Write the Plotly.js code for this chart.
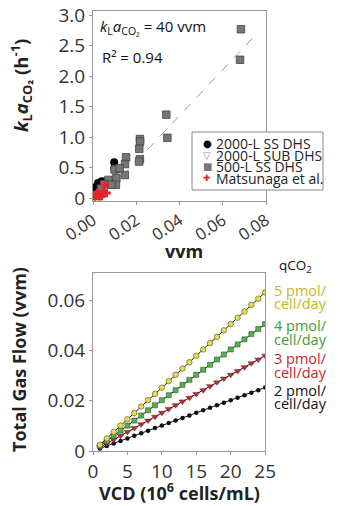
<!DOCTYPE html>
<html>
<head>
<meta charset="utf-8">
<script src="https://cdn.plot.ly/plotly-3.0.1.min.js"></script>
<style>html,body{margin:0;padding:0;background:#fff;}#chart{width:354px;height:506px;}</style>
</head>
<body>
<div id="chart"></div>
<script>
// ---------- Top panel data (kLa CO2 vs vvm) ----------
const ssX  = [0.0098, 0.0099, 0.0100, 0.0048, 0.0032, 0.0009, 0.0023, 0.0040];
const ssY  = [0.59, 0.50, 0.24, 0.27, 0.22, 0.18, 0.25, 0.28];
const subX = [0.0030, 0.0050, 0.0070];
const subY = [0.15, 0.20, 0.25];
const sq500X = [0.0684, 0.0680, 0.0339, 0.0344, 0.0217, 0.0218, 0.0214, 0.0217, 0.0213,
                0.0153, 0.0148, 0.0147, 0.0108, 0.0108, 0.0106, 0.0071, 0.0051, 0.0037,
                0.0012, 0.0100, 0.0123, 0.0085];
const sq500Y = [2.77, 2.27, 1.37, 0.99, 0.97, 0.93, 0.81, 0.64, 0.60,
                0.67, 0.56, 0.38, 0.48, 0.33, 0.22, 0.30, 0.23, 0.16,
                0.04, 0.47, 0.49, 0.22];
const matX = [0.0055, 0.0048, 0.0040, 0.0025, 0.0009, 0.0063, 0.0015, 0.0031, 0.0020];
const matY = [0.22, 0.11, 0.03, 0.03, 0.00, 0.085, 0.06, 0.03, 0.09];
const fitX = [0.0080, 0.0755];
const fitY = [0.15, 2.69];
const topXTicks = [0, 0.02, 0.04, 0.06, 0.08];
const topXTickText = ["0.00", "0.02", "0.04", "0.06", "0.08"];
const topYTicks = [0, 0.5, 1.0, 1.5, 2.0, 2.5, 3.0];
const topYTickText = ["0", "0.5", "1.0", "1.5", "2.0", "2.5", "3.0"];
const legendNames = ["2000-L SS DHS", "2000-L SUB DHS", "500-L SS DHS", "Matsunaga et al."];

// ---------- Bottom panel data (Total gas flow vs VCD) ----------
const vcd = [1,2,3,4,5,6,7,8,9,10,11,12,13,14,15,16,17,18,19,20,21,22,23,24,25];
const flow5 = [0.0025,0.0050,0.0076,0.0101,0.0126,0.0151,0.0177,0.0202,0.0227,0.0252,0.0278,0.0303,0.0328,0.0353,0.0379,0.0404,0.0429,0.0454,0.0480,0.0505,0.0530,0.0555,0.0581,0.0606,0.0631];
const flow4 = [0.0020,0.0040,0.0061,0.0081,0.0101,0.0121,0.0141,0.0162,0.0182,0.0202,0.0222,0.0242,0.0263,0.0283,0.0303,0.0323,0.0343,0.0364,0.0384,0.0404,0.0424,0.0444,0.0465,0.0485,0.0505];
const flow3 = [0.0015,0.0030,0.0045,0.0061,0.0076,0.0091,0.0106,0.0121,0.0136,0.0152,0.0167,0.0182,0.0197,0.0212,0.0227,0.0242,0.0258,0.0273,0.0288,0.0303,0.0318,0.0333,0.0349,0.0364,0.0379];
const flow2 = [0.0010,0.0020,0.0030,0.0040,0.0050,0.0061,0.0071,0.0081,0.0091,0.0101,0.0111,0.0121,0.0131,0.0141,0.0152,0.0162,0.0172,0.0182,0.0192,0.0202,0.0212,0.0222,0.0232,0.0242,0.0253];
const botXTicks = [0, 5, 10, 15, 20, 25];
const botYTicks = [0, 0.02, 0.04, 0.06];
const botYTickText = ["0", "0.02", "0.04", "0.06"];
const qLabels = ["5 pmol/", "4 pmol/", "3 pmol/", "2 pmol/"];

// ---------- Styles ----------
const FONT = "Open Sans, Noto Sans, sans-serif";
const yellow = "#e6dc55", yellowTxt = "#c4b52a";
const green = "#55b04f", greenTxt = "#3f9a3a";
const red = "#b5303a", redTxt = "#c8262e";

const traces = [
  {x: fitX, y: fitY, mode: "lines", line: {color: "#9a9a9a", width: 1, dash: "dash"}, xaxis: "x", yaxis: "y", showlegend: false},
  {x: subX, y: subY, mode: "markers", marker: {symbol: "triangle-down", size: 7, color: "#fff", line: {color: "#888", width: 1}}, xaxis: "x", yaxis: "y", showlegend: false},
  {x: ssX, y: ssY, mode: "markers", marker: {symbol: "circle", size: 8, color: "#000"}, xaxis: "x", yaxis: "y", showlegend: false},
  {x: sq500X, y: sq500Y, mode: "markers", marker: {symbol: "square", size: 7.5, color: "#767676", line: {color: "#444", width: 0.8}}, xaxis: "x", yaxis: "y", showlegend: false},
  {x: matX, y: matY, mode: "markers", marker: {symbol: "cross", size: 7, color: "#e3242b"}, xaxis: "x", yaxis: "y", showlegend: false},

  {x: vcd, y: flow2, mode: "lines+markers", line: {color: "#111", width: 1}, marker: {symbol: "circle", size: 4.5, color: "#111"}, xaxis: "x2", yaxis: "y2", showlegend: false},
  {x: vcd, y: flow3, mode: "lines+markers", line: {color: "#111", width: 1}, marker: {symbol: "triangle-down", size: 6, color: red, line: {color: "#5a1a1a", width: 0.5}}, xaxis: "x2", yaxis: "y2", showlegend: false},
  {x: vcd, y: flow4, mode: "lines+markers", line: {color: "#111", width: 1}, marker: {symbol: "square", size: 5, color: green, line: {color: "#2a5a2a", width: 0.6}}, xaxis: "x2", yaxis: "y2", showlegend: false},
  {x: vcd, y: flow5, mode: "lines+markers", line: {color: "#111", width: 1}, marker: {symbol: "circle", size: 5.5, color: yellow, line: {color: "#6a6420", width: 0.7}}, xaxis: "x2", yaxis: "y2", showlegend: false}
];

// pixel -> paper helpers (margins l=93, t=11, plot w=173, h=440)
const W = 173, H = 440, L = 93, T = 11;
const px = v => (v - L) / W;
const py = v => 1 - (v - T) / H;

const axisCommon = {
  showline: true, mirror: true, linecolor: "#999", linewidth: 1,
  ticks: "outside", ticklen: 3, tickcolor: "#999",
  showgrid: false, zeroline: false,
  tickfont: {family: FONT, size: 19, color: "#333"}
};

const annotations = [];
function ann(text, x, y, opts) {
  annotations.push(Object.assign({
    text: text, xref: "paper", yref: "paper", x: px(x), y: py(y),
    xanchor: "left", yanchor: "middle", showarrow: false,
    font: {family: FONT, size: 13, color: "#111"}
  }, opts || {}));
}
// top panel texts
ann("<i>k</i><sub>L</sub><i>a</i><sub>CO₂</sub> = 40 vvm", 98, 27, {font: {family: FONT, size: 15, color: "#111"}});
ann("R² = 0.94", 100, 57, {font: {family: FONT, size: 15, color: "#111"}});
// legend
const legY = [143, 155, 167, 178];
const legSym = ["●", "▽", "■", "✚"];
const legCol = ["#000", "#888", "#777", "#e3242b"];
for (let i = 0; i < legendNames.length; i++) {
  ann(legSym[i], 207, legY[i], {xanchor: "center", font: {family: "DejaVu Sans", size: i === 3 ? 9 : 10, color: legCol[i]}});
  ann(legendNames[i], 214, legY[i], {font: {family: FONT, size: 14, color: "#222"}});
}
// axis titles
ann("<b><i>k</i><sub>L</sub><i>a</i><sub>CO₂</sub> (h<sup>-1</sup>)</b>", 21, 86, {xanchor: "center", textangle: -90, font: {family: FONT, size: 18.5, color: "#222"}});
ann("<b>vvm</b>", 184, 251, {xanchor: "center", font: {family: FONT, size: 18, color: "#222"}});
ann("<b>Total Gas Flow (vvm)</b>", 19, 360, {xanchor: "center", textangle: -90, font: {family: FONT, size: 18, color: "#222"}});
ann("<b>VCD (10<sup>6</sup> cells/mL)</b>", 179, 492, {xanchor: "center", font: {family: FONT, size: 18, color: "#222"}});
// bottom right labels
ann("qCO<sub>2</sub>", 277, 266, {font: {family: FONT, size: 13.5, color: "#111"}});
const qCols = [yellowTxt, greenTxt, redTxt, "#111"];
const qY = [[290, 303], [325, 339], [358, 372], [390, 403]];
for (let i = 0; i < qLabels.length; i++) {
  ann(qLabels[i], 272, qY[i][0], {font: {family: FONT, size: 14.5, color: qCols[i]}});
  ann("cell/day", 272, qY[i][1], {font: {family: FONT, size: 14.5, color: qCols[i]}});
}

const layout = {
  width: 354, height: 506,
  margin: {l: L, r: 354 - L - W, t: T, b: 506 - T - H},
  paper_bgcolor: "#fff", plot_bgcolor: "#fff",
  showlegend: false,
  font: {family: FONT},
  xaxis: Object.assign({}, axisCommon, {domain: [0, 1], anchor: "y", range: [0, 0.08],
    tickmode: "array", tickvals: topXTicks, ticktext: topXTickText, tickangle: -34,
    tickfont: {family: FONT, size: 16.5, color: "#333"}}),
  yaxis: Object.assign({}, axisCommon, {domain: [0.569, 1], anchor: "x", range: [-0.04, 3.07],
    tickmode: "array", tickvals: topYTicks, ticktext: topYTickText}),
  xaxis2: Object.assign({}, axisCommon, {domain: [0, 0.995], anchor: "y2", range: [0, 25],
    tickmode: "array", tickvals: botXTicks, tickfont: {family: FONT, size: 19, color: "#333"}}),
  yaxis2: Object.assign({}, axisCommon, {domain: [0, 0.404], anchor: "x2", range: [0, 0.0707],
    tickmode: "array", tickvals: botYTicks, ticktext: botYTickText}),
  shapes: [
    {type: "rect", xref: "paper", yref: "paper", x0: px(192), x1: px(323), y0: py(132), y1: py(190),
     line: {color: "#888", width: 1}, fillcolor: "#fff", layer: "above"}
  ],
  annotations: annotations
};

Plotly.newPlot("chart", traces, layout, {staticPlot: true, displayModeBar: false});
</script>
</body>
</html>
